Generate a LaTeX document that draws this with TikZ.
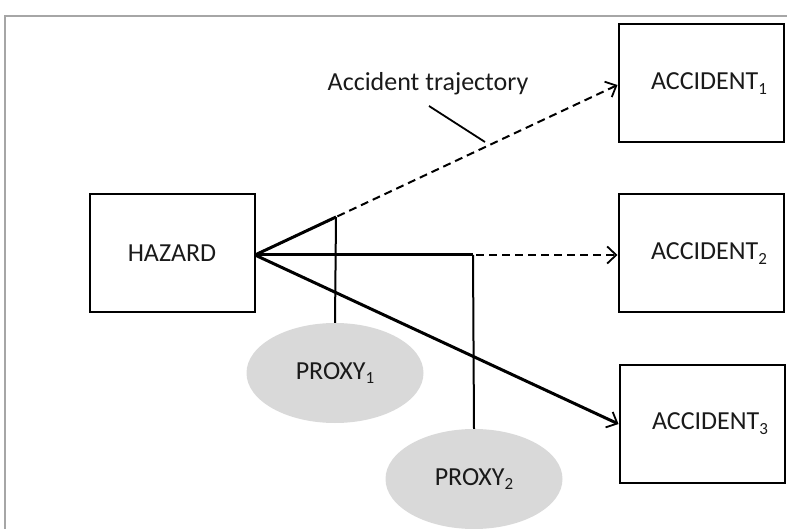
\documentclass[tikz,border=0pt]{standalone}
\usepackage{fontspec}
\setmainfont{Carlito}
\usetikzlibrary{arrows.meta,shapes.geometric}
\definecolor{txt}{HTML}{1A1A1A}
\definecolor{framegray}{HTML}{A6A6A6}
\definecolor{proxyfill}{HTML}{D9D9D9}
\newcommand\lsub[1]{\raisebox{-4.5pt}{\fontsize{17}{17}\selectfont #1}}
\begin{document}
\begin{tikzpicture}[x=1pt,y=-1pt,
  every node/.style={font=\fontsize{26}{31}\selectfont, text=txt},
  boxnode/.style={draw=black, line width=2pt, minimum width=165pt, minimum height=118pt, inner sep=0pt},
  proxynode/.style={ellipse, fill=proxyfill, draw=none, minimum width=177pt, minimum height=100pt, inner sep=0pt},
  tip/.style={-{Straight Barb[length=9pt,width=17pt,line width=1.8pt]}},
  traj/.style={line width=2pt, dash pattern=on 8pt off 5pt},
  link/.style={line width=2pt},
  heavy/.style={line width=3pt}]
\useasboundingbox (0,0) rectangle (787,529);
\draw[framegray, line width=2pt] (5,529) -- (5,16) -- (787,16);

\node[boxnode] (hazard) at (172,253.5) {HAZARD};
\node[boxnode] (acc1) at (701,83.5) {\hspace*{16pt}ACCIDENT\lsub{1}};
\node[boxnode] (acc2) at (701,253.5) {\hspace*{16pt}ACCIDENT\lsub{2}};
\node[boxnode] (acc3) at (702,423.5) {\hspace*{16pt}ACCIDENT\lsub{3}};

\node[proxynode] (proxy1) at (335,373) {PROXY\lsub{1}};
\node[proxynode] (proxy2) at (474,479) {PROXY\lsub{2}};

\node (lab) at (428,84) {Accident trajectory};

\coordinate (h) at (255,255);
\coordinate (p1) at (336,217);
\coordinate (p2) at (473,255);
\coordinate (lead1) at (429,106);
\coordinate (lead2) at (485,142);

\draw[traj, tip] (h) -- (acc1.west |- 0,85);
\draw[traj, tip] (h) -- (acc2.west |- h);
\draw[heavy, tip] (h) -- (acc3.west |- 0,424);

\draw[heavy] (h) -- (p1);
\draw[link] (p1) -- (proxy1.north);
\draw[heavy] (h) -- (p2);
\draw[link] (p2) -- (proxy2.north);

\draw[line width=1.8pt] (lead1) -- (lead2);
\end{tikzpicture}
\end{document}
